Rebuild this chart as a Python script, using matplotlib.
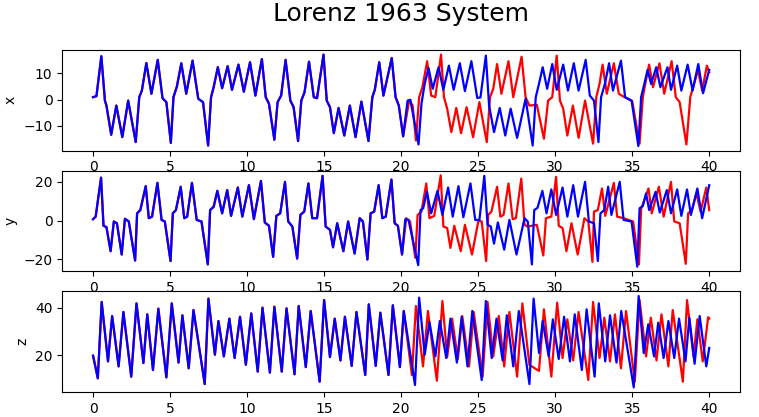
import matplotlib.pyplot as plt

# values (time, value) - both runs agree until t ~ 20
t_x_shared = [0, 0.22, 0.54, 0.77, 0.87, 1.18, 1.51, 1.9, 2.28, 2.77, 3.0, 3.17, 3.46, 3.79, 4.2, 4.51, 4.76,
              5.05, 5.22, 5.44, 5.73, 6.05, 6.46, 6.83, 7.14, 7.47, 7.66, 7.83, 8.1, 8.38, 8.74, 9.02, 9.44,
              9.79, 10.19, 10.54, 10.96, 11.21, 11.42, 11.77, 11.98, 12.21, 12.5, 12.81, 13.02, 13.31, 13.52,
              13.73, 14.02, 14.33, 14.54, 14.96, 15.17, 15.38, 15.63, 15.94, 16.31, 16.67, 17.04, 17.42, 17.88,
              18.13, 18.29, 18.58, 18.85, 19.39, 19.64, 19.85, 20.13]
x_shared = [0.9, 1.3, 16.5, -0.4, -2.3, -13.4, -2.3, -14.3, -0.4, -16.2, 0.9, 3.4, 13.9, 2.2, 15.1, 0.5, -1.0,
            -16.5, 0.9, 4.9, 13.8, 2.2, 14.8, 0.3, -1.0, -17.5, 0.9, 4.7, 12.3, 4.3, 12.7, 3.7, 13.3,
            3.0, 14.2, 1.5, 15.4, 0.9, -1.6, -15.3, -1.0, 1.5, 15.1, -0.4, -2.9, -15.8, -0.4,
            2.8, 14.4, 0.9, 0.5, 17.1, -0.4, -2.9, -12.8, -3.2, -13.7, -2.3, -14.3, -0.8, -15.8,
            0.9, 3.7, 14.2, 1.5, 15.8, 0.9, -2.3, -14.0]

t_x_red = [20.52, 20.75, 20.96, 21.17, 21.38, 21.69, 21.95, 22.22, 22.59, 22.78, 22.99, 23.26, 23.58, 23.89,
           24.25, 24.67, 25.08, 25.56, 25.77, 25.98, 26.23, 26.51, 26.97, 27.28, 27.82, 28.08, 28.33, 28.81,
           29.27, 29.54, 29.81, 30.1, 30.31, 30.52, 30.79, 31.15, 31.52, 31.94, 32.46, 32.67, 32.88, 33.08,
           33.35, 33.81, 34.13, 34.44, 35.0, 35.48, 35.69, 35.85, 36.1, 36.35, 36.77, 37.08, 37.56, 37.83,
           38.08, 38.52, 38.77, 39.02, 39.27, 39.54, 39.85, 40.0]
x_red = [-0.4, -2.3, -15.6, 0.9, 4.7, 14.6, 1.5, 0.9, 17.1, 0.9, -3.5, -12.4, -3.2, -12.8,
         -2.9, -14.3, -1.0, -16.2, 0.9, 4.1, 13.5, 2.2, 14.6, 0.9, 16.3, 0.9, -2.3, -2.0,
         -14.9, -0.4, 0.9, 16.7, -0.4, -3.5, -13.7, -2.3, -14.6, -0.4, -16.8, 0.9, 6.0, 13.3,
         2.2, 13.8, 2.2, 1.1, -0.6, -16.8, 0.9, 6.0, 13.3, 4.7, 13.8, 2.2, 14.6, 0.9,
         -1.0, -17.1, 0.9, 6.0, 11.3, 3.4, 12.9, 10.4]

t_x_blue = [20.42, 20.6, 21.13, 21.32, 21.53, 21.78, 22.05, 22.43, 22.74, 23.1, 23.41, 23.81, 24.14, 24.56,
            24.94, 25.15, 25.5, 25.71, 26.03, 26.4, 26.76, 27.11, 27.53, 28.08, 28.54, 28.74, 28.95, 29.19,
            29.48, 29.81, 30.1, 30.52, 30.83, 31.21, 31.52, 31.98, 32.25, 32.52, 32.81, 32.98, 33.23, 33.5,
            33.75, 34.27, 34.54, 34.96, 35.4, 35.58, 35.79, 36.0, 36.23, 36.56, 36.83, 37.29, 37.52, 37.92,
            38.19, 38.6, 38.92, 39.29, 39.6, 40.0]
x_blue = [-0.4, -0.1, -17.1, -1.6, 6.0, 12.0, 4.1, 12.3, 3.7, 12.9, 3.7, 13.8, 3.2, 14.6,
          0.6, 0.8, 16.7, -2.3, -12.4, -3.2, -13.7, -3.5, -14.6, 0.3, -17.5, 0.9, 6.0, 12.3,
          4.1, 13.5, 3.7, 13.3, 3.4, 13.8, 3.4, 15.1, 1.5, -0.4, -16.2, 0.9, 6.0, 13.8,
          3.4, 14.8, 0.9, -0.4, -17.7, 0.9, 6.0, 11.3, 5.9, 12.3, 4.7, 12.3, 3.7, 12.9,
          3.4, 13.3, 3.4, 13.5, 2.4, 11.3]

t_y_shared = [0, 0.17, 0.52, 0.68, 0.87, 1.14, 1.35, 1.55, 1.86, 2.07, 2.32, 2.73, 2.86, 3.07, 3.42, 3.62,
              3.83, 4.18, 4.45, 4.66, 5.03, 5.18, 5.38, 5.69, 5.92, 6.11, 6.42, 6.73, 7.04, 7.45, 7.6, 7.83,
              8.07, 8.38, 8.71, 8.96, 9.4, 9.69, 10.12, 10.44, 10.9, 11.15, 11.42, 11.69, 11.9, 12.15, 12.46,
              12.67, 12.94, 13.25, 13.46, 13.71, 13.98, 14.23, 14.54, 14.9, 15.1, 15.38, 15.58, 15.85, 16.25,
              16.56, 16.98, 17.31, 17.52, 17.81, 18.02, 18.25, 18.54, 18.78, 19.0, 19.37, 19.58, 19.79, 20.06]
y_shared = [0.7, 2.0, 22.1, -2.7, -3.4, -15.8, -0.5, -1.4, -17.5, 0.9, -0.5, -20.6, 3.7, 5.4, 17.7, 1.2,
            2.0, 19.4, 0.3, -0.5, -20.9, 3.7, 5.4, 17.4, 1.2, 2.0, 19.4, 0.3, -0.5, -22.6, 5.4, 7.1,
            15.3, 3.7, 15.7, 2.4, 17.0, 2.0, 18.2, 0.7, 20.4, -1.0, -2.7, -18.7, 2.4, 3.7, 19.9,
            -0.5, -3.1, -19.6, 2.9, 4.6, 19.1, 1.2, 1.2, 23.0, -3.1, -4.8, -13.8, -1.4, -15.8,
            -0.5, -17.0, 1.2, -0.5, -20.1, 3.7, 4.6, 18.2, 1.2, 2.0, 21.1, -1.4, -2.7, -17.5]

t_y_red = [20.33, 20.58, 20.92, 21.07, 21.32, 21.63, 21.84, 22.15, 22.57, 22.74, 22.99, 23.2, 23.45, 23.87,
           24.14, 24.6, 25.02, 25.23, 25.52, 25.65, 25.86, 26.23, 26.44, 26.65, 26.97, 27.24, 27.45, 27.8,
           28.01, 28.22, 28.81, 29.23, 29.4, 29.75, 30.06, 30.23, 30.48, 30.73, 31.06, 31.46, 31.9, 32.15,
           32.42, 32.52, 32.77, 33.04, 33.25, 33.81, 34.02, 34.44, 35.06, 35.44, 35.58, 36.06, 36.27, 36.73,
           37.04, 37.52, 37.73, 38.08, 38.48, 38.63, 38.88, 39.17, 39.44, 39.81, 40.0]
y_red = [1.2, -0.5, -19.2, 2.9, 4.6, 19.1, 1.2, 2.4, 23.3, -3.1, -3.9, -14.1, -2.7, -15.8,
         -2.2, -17.5, 0.0, -0.5, -20.9, 2.9, 4.6, 17.4, 2.0, 2.9, 19.1, 0.7, 1.2, 21.6,
         -2.2, -3.1, -2.2, -18.0, 1.2, 2.0, 22.5, -2.7, -3.9, -15.8, -1.4, -17.5, 1.2, -0.5,
         -21.3, 4.6, 5.4, 16.5, 2.4, 19.4, 2.0, 1.2, -0.5, -22.6, 5.9, 16.5, 3.7, 17.4,
         2.0, 19.9, -0.5, -1.4, -22.3, 3.7, 5.4, 14.0, 4.6, 17.0, 5.4]

t_y_blue = [20.27, 20.48, 21.11, 21.26, 21.43, 21.67, 21.95, 22.36, 22.68, 23.05, 23.35, 23.72, 24.04, 24.5,
            24.81, 25.08, 25.4, 25.61, 25.82, 26.03, 26.28, 26.69, 27.03, 27.49, 28.01, 28.22, 28.49, 28.64,
            28.85, 29.17, 29.44, 29.75, 30.06, 30.48, 30.79, 31.17, 31.48, 31.94, 32.19, 32.52, 32.77, 32.94,
            33.19, 33.44, 33.65, 34.19, 34.44, 34.96, 35.33, 35.48, 35.69, 35.9, 36.1, 36.52, 36.79, 37.25,
            37.52, 37.92, 38.19, 38.56, 38.81, 39.23, 39.54, 40.0]
y_blue = [0.7, 0.3, -23.0, 5.4, 6.3, 14.8, 3.7, 15.3, 2.9, 17.0, 2.0, 17.7, 1.7, 19.1,
          0.3, 0.3, 23.0, -2.2, -3.1, -11.9, -1.0, -15.0, 0.3, -17.5, 1.2, -0.5, -22.6, 5.4,
          6.5, 15.3, 3.7, 16.0, 2.9, 17.0, 2.0, 18.2, 2.0, 19.9, -0.5, -1.4, -20.9, 3.7,
          5.4, 17.4, 2.9, 19.9, 0.3, -0.5, -23.8, 6.3, 7.5, 14.0, 5.4, 14.8, 4.1, 15.7,
          3.7, 16.0, 2.4, 16.0, 2.9, 16.5, 1.2, 18.2]

t_z_shared = [0, 0.31, 0.56, 0.97, 1.24, 1.66, 1.97, 2.48, 2.82, 3.27, 3.52, 3.89, 4.24, 4.76, 5.11, 5.55,
              5.8, 6.21, 6.52, 7.25, 7.49, 7.91, 8.14, 8.49, 8.85, 9.19, 9.54, 9.92, 10.27, 10.69, 11.0,
              11.48, 11.77, 12.25, 12.56, 13.08, 13.35, 13.81, 14.13, 14.71, 15.0, 15.38, 15.69, 16.06,
              16.35, 16.79, 17.1, 17.67, 17.9, 18.35, 18.65, 19.18, 19.46, 19.92, 20.17]
z_shared = [19.9, 10.4, 42.4, 17.5, 36.5, 15.4, 38.2, 11.1, 41.8, 16.8, 37.2, 13.9, 39.6, 10.8, 41.8, 17.0,
            36.8, 14.6, 39.0, 8.0, 43.8, 20.3, 34.4, 19.6, 35.4, 18.9, 36.2, 16.1, 37.6, 13.2, 40.0,
            12.8, 40.4, 13.2, 39.7, 12.1, 40.7, 15.1, 38.6, 9.0, 43.2, 19.3, 35.4, 17.9,
            36.2, 15.6, 38.2, 11.8, 41.4, 15.6, 37.9, 11.8, 41.0, 15.1, 38.6]

t_z_red = [20.7, 20.96, 21.42, 21.74, 22.32, 22.68, 22.99, 23.31, 23.68, 23.97, 24.41, 24.71, 25.29, 25.61,
           25.98, 26.34, 26.69, 27.03, 27.53, 27.87, 28.33, 28.95, 29.27, 29.75, 30.13, 30.48, 30.79, 31.17,
           31.52, 32.15, 32.46, 32.88, 33.19, 33.56, 33.88, 34.27, 34.6, 35.17, 35.48, 35.9, 36.21, 36.58,
           36.9, 37.35, 37.63, 38.29, 38.56, 38.98, 39.23, 39.58, 39.93, 40.0]
z_red = [11.8, 40.7, 15.4, 38.6, 9.4, 42.8, 19.3, 35.4, 18.5, 36.5, 15.4, 38.2, 11.1, 42.4,
         19.6, 36.5, 15.4, 38.2, 11.1, 41.8, 16.0, 13.5, 39.3, 11.1, 42.1, 18.9, 35.1, 17.9,
         38.2, 9.7, 42.4, 18.9, 35.8, 17.5, 37.2, 14.6, 38.6, 9.0, 43.2, 19.6, 35.8, 17.9,
         37.2, 15.4, 39.0, 9.0, 43.2, 19.6, 35.1, 17.5, 36.0, 35.4]

t_z_blue = [20.9, 21.17, 21.53, 21.84, 22.22, 22.51, 22.93, 23.2, 23.62, 23.93, 24.31, 24.62, 25.23, 25.5,
            25.88, 26.19, 26.59, 26.86, 27.28, 27.64, 28.33, 28.6, 28.95, 29.19, 29.58, 29.85, 30.23, 30.58,
            30.96, 31.27, 31.73, 32.04, 32.56, 32.83, 33.25, 33.56, 33.98, 34.29, 35.1, 35.42, 35.75, 36.04,
            36.42, 36.69, 37.04, 37.35, 37.73, 38.04, 38.46, 38.71, 39.05, 39.38, 39.81, 40.0]
z_blue = [7.6, 44.2, 20.3, 33.9, 19.6, 34.4, 18.9, 35.4, 17.0, 36.2, 15.4, 38.6, 9.7, 42.8,
          18.9, 35.4, 17.9, 36.8, 15.4, 38.6, 8.0, 43.8, 21.0, 34.4, 19.6, 35.1, 18.5, 36.2,
          17.5, 37.2, 13.9, 39.3, 11.1, 41.8, 17.5, 36.8, 17.0, 38.6, 6.6, 44.9, 21.0, 33.0,
          19.6, 33.7, 18.9, 34.4, 18.9, 35.4, 17.5, 35.8, 16.5, 36.5, 15.4, 23.1]

panels = [
    ('x', t_x_shared, x_shared, t_x_red, x_red, t_x_blue, x_blue, [-10, 0, 10]),
    ('y', t_y_shared, y_shared, t_y_red, y_red, t_y_blue, y_blue, [-20, 0, 20]),
    ('z', t_z_shared, z_shared, t_z_red, z_red, t_z_blue, z_blue, [20, 40]),
]

fig, axes = plt.subplots(3, 1, figsize=(7.59, 4.17), dpi=100)
fig.subplots_adjust(left=0.082, right=0.975, top=0.88, bottom=0.06, hspace=0.2)
# title sits centred over the axes, not over the whole figure
fig.suptitle('Lorenz 1963 System', fontsize=18, x=0.528, y=0.995, va='top')

for ax, (name, ts, vs, tr, vr, tb, vb, yticks) in zip(axes, panels):
    ax.plot(ts + tr, vs + vr, color='red', lw=1.6, solid_joinstyle='round')
    ax.plot(ts + tb, vs + vb, color='blue', lw=1.6, solid_joinstyle='round')
    ax.set_ylabel(name)
    ax.set_yticks(yticks)
    ax.set_xticks([0, 5, 10, 15, 20, 25, 30, 35, 40])

plt.savefig('out.png')
